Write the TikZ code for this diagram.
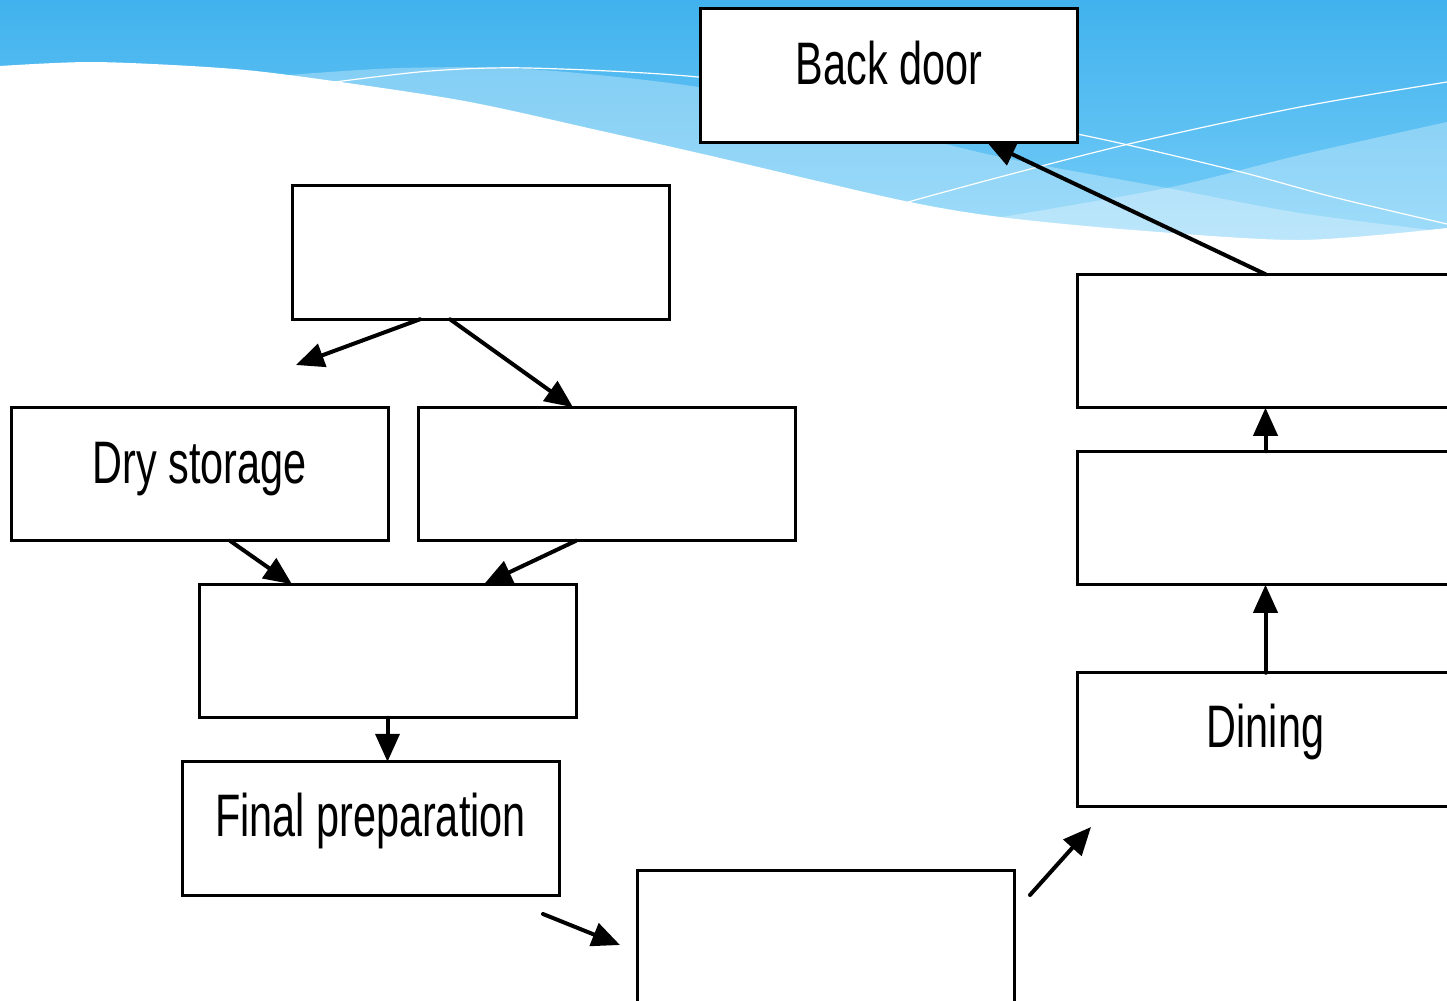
\documentclass[tikz,border=0pt]{standalone}
\usepackage{fontspec}
\newfontfamily\narrowsans[FakeStretch=0.69]{Liberation Sans}
\usetikzlibrary{arrows.meta,calc}
\definecolor{skytop}{HTML}{41B2ED}
\definecolor{skybot}{HTML}{7ACFF9}
\tikzset{
  stepbox/.style={draw=black, line width=1.5pt, fill=white, minimum width=188.5pt, minimum height=66.75pt, inner sep=0pt, outer sep=0pt},
  lbl/.style={anchor=base, inner sep=0pt, font=\narrowsans\fontsize{30}{36}\selectfont},
  flow/.style={line width=2pt, line cap=round, -{Triangle[length=14pt,width=12pt]}},
  band/.style={fill=white, fill opacity=0.3},
  thinline/.style={draw=white, line width=0.6pt}
}
\begin{document}
\begin{tikzpicture}[x=0.5pt,y=-0.5pt]
\useasboundingbox (0,0) rectangle (1447,1001);
\clip (0,0) rectangle (1447,1001);
% background
\fill[white] (0,0) rectangle (1447,1001);
\shade[top color=skytop, bottom color=skybot] (0,0) rectangle (1447,260);
\fill[band] plot[smooth] coordinates {(289,75) (400,68) (528,69) (698,87) (850,120) (1000,157) (1167,188) (1300,213) (1447,232)} -- (1447,300) -- (289,300) -- cycle;
\fill[band] plot[smooth] coordinates {(990,219) (1167,188) (1300,155) (1447,122)} -- (1447,300) -- (990,300) -- cycle;
\fill[white] plot[smooth] coordinates {(0,66) (92,62) (207,67) (289,75) (459,100) (597,130) (720,158) (900,200) (1000,217) (1133,230) (1300,240) (1447,228)} -- (1447,1001) -- (0,1001) -- cycle;
\draw[thinline] plot[smooth] coordinates {(335,82) (430,71) (528,68) (698,77) (900,104) (1077,134) (1233,170) (1333,197) (1447,224)};
\draw[thinline] plot[smooth] coordinates {(908,202) (1000,177) (1133,143) (1300,107) (1447,82)};
% boxes
\node[stepbox] (bd)  at (889,75.5) {};
\node[stepbox] (top) at (481,252.5) {};
\node[stepbox] (dry) at (199.5,474) {};
\node[stepbox] (mid) at (606.5,474) {};
\node[stepbox] (cen) at (387.5,651) {};
\node[stepbox] (fin) at (370.5,828.5) {};
\node[stepbox] (bot) at (826,937.5) {};
\node[stepbox] (r1)  at (1265.5,341) {};
\node[stepbox] (r2)  at (1265.5,518) {};
\node[stepbox] (din) at (1265.5,739.5) {};
% labels
\node[lbl] (bdt)  at ($(bd.north)+(0,76)$) {Back door};
\node[lbl] (dryt) at ($(dry.north)+(0,76)$) {Dry storage};
\node[lbl] (fint) at ($(fin.north)+(0,75)$) {Final preparation};
\node[lbl] (dint) at ($(din.north)+(0,75)$) {Dining};
% free ends
\coordinate (a1) at (296,365);
\coordinate (f1s) at (543,914);
\coordinate (f1e) at (620,945);
\coordinate (f2s) at (1030,895);
\coordinate (f2e) at (1091,827);
% connectors
\draw[flow] ($(top.south)+(-61,0)$) -- (a1);
\draw[flow] ($(top.south)+(-31,0)$) -- ($(mid.north)+(-33.5,0)$);
\draw[flow] ($(dry.south)+(30.5,0)$) -- ($(cen.north)+(-95.5,0)$);
\draw[flow] ($(mid.south)+(-30.5,0)$) -- ($(cen.north)+(96.5,0)$);
\draw[flow] (cen.south) -- (cen.south |- fin.north);
\draw[flow] (f1s) -- (f1e);
\draw[flow] (f2s) -- (f2e);
\draw[flow] (din.north) -- (r2.south);
\draw[flow] (r2.north) -- (r1.south);
\draw[flow] (r1.north) -- ($(bd.south)+(98,0)$);
\end{tikzpicture}
\end{document}
